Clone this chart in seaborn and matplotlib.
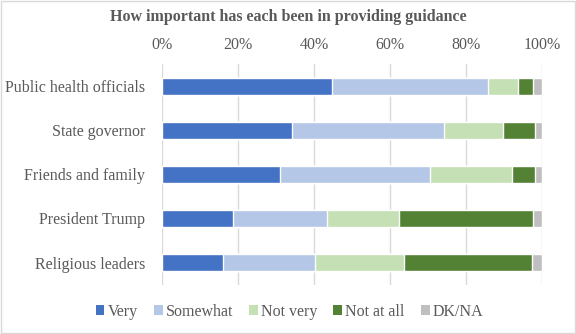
import matplotlib
matplotlib.use("Agg")
import matplotlib.pyplot as plt
import seaborn as sns
import numpy as np
import pandas as pd
from matplotlib.patches import Patch, Rectangle

categories = ["Public health officials", "State governor", "Friends and family",
              "President Trump", "Religious leaders"]
series = ["Very", "Somewhat", "Not very", "Not at all", "DK/NA"]
very = [44.7, 34.3, 31.1, 18.7, 16.1]
somewhat = [41.0, 39.9, 39.4, 24.7, 24.2]
not_very = [7.8, 15.5, 21.5, 19.0, 23.4]
not_at_all = [4.0, 8.4, 6.1, 35.1, 33.6]
dk_na = [2.5, 1.9, 1.9, 2.5, 2.7]
colors = ["#4472C4", "#B4C7E7", "#C5E0B4", "#548235", "#BFBFBF"]
ticks = [0, 20, 40, 60, 80, 100]
tick_labels = ["0%", "20%", "40%", "60%", "80%", "100%"]

sns.set_style("white")
plt.rcParams['font.family'] = ['Liberation Serif', 'DejaVu Serif']
text_color = "#595959"

fig = plt.figure(figsize=(5.76, 3.34), dpi=100)
ax = fig.add_axes([0.2807, 0.1482, 0.6608, 0.6587])

vals = np.array([very, somewhat, not_very, not_at_all, dk_na])
cum = np.cumsum(vals, axis=0)
for i in range(len(series) - 1, -1, -1):
    df = pd.DataFrame({"cat": categories, "val": cum[i]})
    sns.barplot(data=df, x="val", y="cat", color=colors[i], orient="h",
                width=0.4, ax=ax, saturation=1, zorder=3)

ax.set_xlim(0, 100)
ax.set_ylim(4.5, -0.5)
ax.set_xticks(ticks)
ax.set_xticklabels(tick_labels)
ax.xaxis.tick_top()
ax.tick_params(axis="both", length=0, colors=text_color, labelsize=11.5)
ax.tick_params(axis="x", pad=8)
ax.tick_params(axis="y", pad=12)
ax.set_xlabel("")
ax.set_ylabel("")
ax.grid(axis="x", color="#D9D9D9", linewidth=1, zorder=0)
ax.set_axisbelow(True)
for s in ax.spines.values():
    s.set_visible(False)

fig.text(0.5, 0.948, "How important has each been in providing guidance",
         ha="center", va="center", fontsize=11.5, fontweight="bold", color=text_color)

handles = [Patch(facecolor=c, edgecolor="none", label=s) for s, c in zip(series, colors)]
fig.legend(handles=handles, loc="center", bbox_to_anchor=(0.5026, 0.066), ncol=5,
           frameon=False, fontsize=11.5, handlelength=0.55, handleheight=0.55,
           handletextpad=0.2, columnspacing=1.0, labelcolor=text_color,
           borderpad=0)

fig.patches.append(Rectangle((0.001, 0.002), 0.997, 0.995, transform=fig.transFigure,
                             fill=False, edgecolor="#D9D9D9", linewidth=1))

fig.savefig("out.png", dpi=100, facecolor="white")
